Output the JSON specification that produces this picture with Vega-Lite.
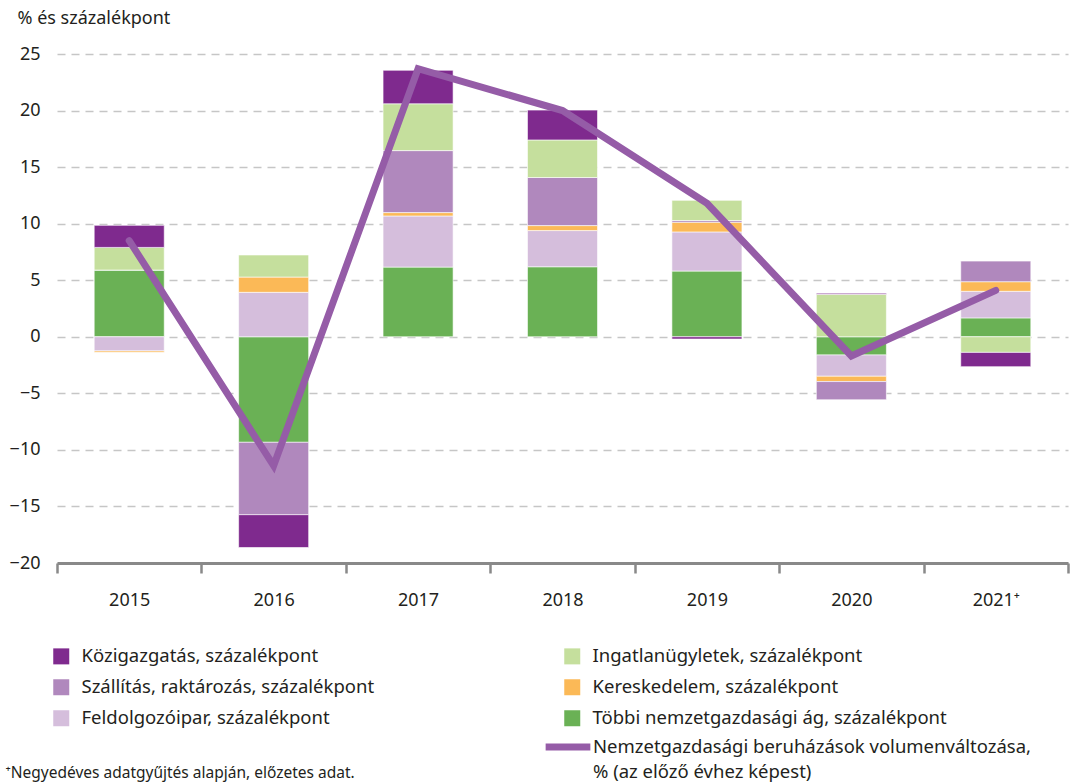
{
  "$schema": "https://vega.github.io/schema/vega-lite/v6.json",
  "width": 1011,
  "height": 509,
  "autosize": {"type": "none"},
  "padding": {"left": 57, "top": 54, "right": 3, "bottom": 219},
  "background": "white",
  "config": {
    "font": "Noto Sans",
    "view": {"stroke": null},
    "axis": {"labelColor": "#231f20", "titleColor": "#231f20"},
    "legend": {"labelColor": "#231f20", "labelFont": "Noto Sans"}
  },
  "datasets": {
    "bars": [
      {"year": "2015", "sector": "Többi nemzetgazdasági ág, százalékpont", "value": 5.9},
      {"year": "2015", "sector": "Feldolgozóipar, százalékpont", "value": -1.25},
      {"year": "2015", "sector": "Kereskedelem, százalékpont", "value": -0.12},
      {"year": "2015", "sector": "Szállítás, raktározás, százalékpont", "value": 0},
      {"year": "2015", "sector": "Ingatlanügyletek, százalékpont", "value": 2.0},
      {"year": "2015", "sector": "Közigazgatás, százalékpont", "value": 1.95},
      {"year": "2016", "sector": "Többi nemzetgazdasági ág, százalékpont", "value": -9.33},
      {"year": "2016", "sector": "Feldolgozóipar, százalékpont", "value": 3.93},
      {"year": "2016", "sector": "Kereskedelem, százalékpont", "value": 1.35},
      {"year": "2016", "sector": "Szállítás, raktározás, százalékpont", "value": -6.4},
      {"year": "2016", "sector": "Ingatlanügyletek, százalékpont", "value": 1.95},
      {"year": "2016", "sector": "Közigazgatás, százalékpont", "value": -2.9},
      {"year": "2017", "sector": "Többi nemzetgazdasági ág, százalékpont", "value": 6.16},
      {"year": "2017", "sector": "Feldolgozóipar, százalékpont", "value": 4.52},
      {"year": "2017", "sector": "Kereskedelem, százalékpont", "value": 0.3},
      {"year": "2017", "sector": "Szállítás, raktározás, százalékpont", "value": 5.48},
      {"year": "2017", "sector": "Ingatlanügyletek, százalékpont", "value": 4.14},
      {"year": "2017", "sector": "Közigazgatás, százalékpont", "value": 2.96},
      {"year": "2018", "sector": "Többi nemzetgazdasági ág, százalékpont", "value": 6.19},
      {"year": "2018", "sector": "Feldolgozóipar, százalékpont", "value": 3.2},
      {"year": "2018", "sector": "Kereskedelem, százalékpont", "value": 0.44},
      {"year": "2018", "sector": "Szállítás, raktározás, százalékpont", "value": 4.25},
      {"year": "2018", "sector": "Ingatlanügyletek, százalékpont", "value": 3.32},
      {"year": "2018", "sector": "Közigazgatás, százalékpont", "value": 2.64},
      {"year": "2019", "sector": "Többi nemzetgazdasági ág, százalékpont", "value": 5.81},
      {"year": "2019", "sector": "Feldolgozóipar, százalékpont", "value": 3.46},
      {"year": "2019", "sector": "Kereskedelem, százalékpont", "value": 0.86},
      {"year": "2019", "sector": "Szállítás, raktározás, százalékpont", "value": 0.15},
      {"year": "2019", "sector": "Ingatlanügyletek, százalékpont", "value": 1.78},
      {"year": "2019", "sector": "Közigazgatás, százalékpont", "value": -0.2},
      {"year": "2020", "sector": "Többi nemzetgazdasági ág, százalékpont", "value": -1.61},
      {"year": "2020", "sector": "Feldolgozóipar, százalékpont", "value": -1.88},
      {"year": "2020", "sector": "Kereskedelem, százalékpont", "value": -0.47},
      {"year": "2020", "sector": "Szállítás, raktározás, százalékpont", "value": -1.61},
      {"year": "2020", "sector": "Ingatlanügyletek, százalékpont", "value": 3.75},
      {"year": "2020", "sector": "Közigazgatás, százalékpont", "value": 0.1},
      {"year": "2021", "sector": "Többi nemzetgazdasági ág, százalékpont", "value": 1.67},
      {"year": "2021", "sector": "Feldolgozóipar, százalékpont", "value": 2.35},
      {"year": "2021", "sector": "Kereskedelem, százalékpont", "value": 0.85},
      {"year": "2021", "sector": "Szállítás, raktározás, százalékpont", "value": 1.82},
      {"year": "2021", "sector": "Ingatlanügyletek, százalékpont", "value": -1.38},
      {"year": "2021", "sector": "Közigazgatás, százalékpont", "value": -1.26}
    ],
    "line": [
      {"year": "2015", "value": 8.5},
      {"year": "2016", "value": -11.4},
      {"year": "2017", "value": 23.7},
      {"year": "2018", "value": 20.0},
      {"year": "2019", "value": 11.8},
      {"year": "2020", "value": -1.7},
      {"year": "2021", "value": 4.1}
    ]
  },
  "encoding": {
    "x": {
      "field": "year",
      "type": "nominal",
      "sort": ["2015", "2016", "2017", "2018", "2019", "2020", "2021"],
      "scale": {"paddingInner": 0, "paddingOuter": 0},
      "axis": {
        "title": "⁺Negyedéves adatgyűjtés alapján, előzetes adat.",
        "titleX": -52,
        "titleY": 214,
        "titleAlign": "left",
        "titleAnchor": "start",
        "titleBaseline": "alphabetic",
        "titleFontSize": 15.5,
        "titleFontWeight": "normal",
        "labelAngle": 0,
        "labelFontSize": 18,
        "labelPadding": 18,
        "labelExpr": "datum.value == '2021' ? '2021⁺' : datum.value",
        "tickBand": "extent",
        "tickSize": 10,
        "tickWidth": 2.5,
        "tickColor": "#898989",
        "domainColor": "#898989",
        "domainWidth": 3,
        "grid": false
      }
    }
  },
  "layer": [
    {
      "data": {"name": "bars"},
      "transform": [
        {"calculate": "indexof(['Többi nemzetgazdasági ág, százalékpont','Feldolgozóipar, százalékpont','Kereskedelem, százalékpont','Szállítás, raktározás, százalékpont','Ingatlanügyletek, százalékpont','Közigazgatás, százalékpont'], datum.sector)", "as": "stackorder"}
      ],
      "mark": {"type": "bar", "width": {"band": 0.485}, "stroke": "white", "strokeWidth": 0.6},
      "encoding": {
        "y": {
          "field": "value",
          "type": "quantitative",
          "stack": "zero",
          "scale": {"domain": [-20, 25], "nice": false},
          "axis": {
            "values": [-20, -15, -10, -5, 0, 5, 10, 15, 20, 25],
            "title": "% és százalékpont",
            "titleAngle": 0,
            "titleAlign": "left",
            "titleBaseline": "alphabetic",
            "titleX": -40,
            "titleY": -31,
            "titleFontSize": 18,
            "titleFontWeight": "normal",
            "labelFontSize": 18,
            "labelPadding": 17,
            "domain": false,
            "ticks": false,
            "grid": true,
            "gridDash": [8, 6],
            "gridColor": "#c6c6c6",
            "gridWidth": 1.5
          }
        },
        "color": {
          "field": "sector",
          "type": "nominal",
          "scale": {
            "domain": ["Közigazgatás, százalékpont", "Szállítás, raktározás, százalékpont", "Feldolgozóipar, százalékpont", "Ingatlanügyletek, százalékpont", "Kereskedelem, százalékpont", "Többi nemzetgazdasági ág, százalékpont"],
            "range": ["#7f2a8e", "#b088bd", "#d5bedc", "#c5df9d", "#fbb957", "#6ab155"]
          },
          "legend": {
            "title": null,
            "orient": "none",
            "legendX": -5,
            "legendY": 593,
            "columns": 2,
            "columnPadding": 188,
            "rowPadding": 12,
            "symbolType": "square",
            "symbolSize": 256,
            "symbolStrokeWidth": 0,
            "labelFontSize": 18.5,
            "labelOffset": 11,
            "labelLimit": 500,
            "padding": 0
          }
        },
        "order": {"field": "stackorder", "type": "quantitative"}
      }
    },
    {
      "mark": {"type": "rule", "color": "#898989", "strokeWidth": 3},
      "encoding": {"y": {"datum": 0}}
    },
    {
      "data": {"name": "line"},
      "mark": {"type": "line", "strokeWidth": 7, "strokeCap": "round"},
      "encoding": {
        "y": {"field": "value", "type": "quantitative"},
        "stroke": {
          "datum": "Nemzetgazdasági beruházások volumenváltozása,",
          "type": "nominal",
          "scale": {"range": ["#955ca7"]},
          "legend": {
            "title": null,
            "orient": "none",
            "legendX": 485,
            "legendY": 667,
            "symbolType": "stroke",
            "symbolSize": 2000,
            "symbolStrokeWidth": 7,
            "labelFontSize": 18.5,
            "labelOffset": -1,
            "labelLimit": 600,
            "padding": 0
          }
        },
        "opacity": {
          "datum": "% (az előző évhez képest)",
          "type": "nominal",
          "scale": {"range": [1]},
          "legend": {
            "title": null,
            "orient": "none",
            "legendX": 485,
            "legendY": 692,
            "symbolType": "stroke",
            "symbolSize": 2000,
            "symbolStrokeColor": "transparent",
            "symbolStrokeWidth": 7,
            "labelFontSize": 18.5,
            "labelOffset": -1,
            "labelLimit": 600,
            "padding": 0
          }
        }
      }
    }
  ]
}
